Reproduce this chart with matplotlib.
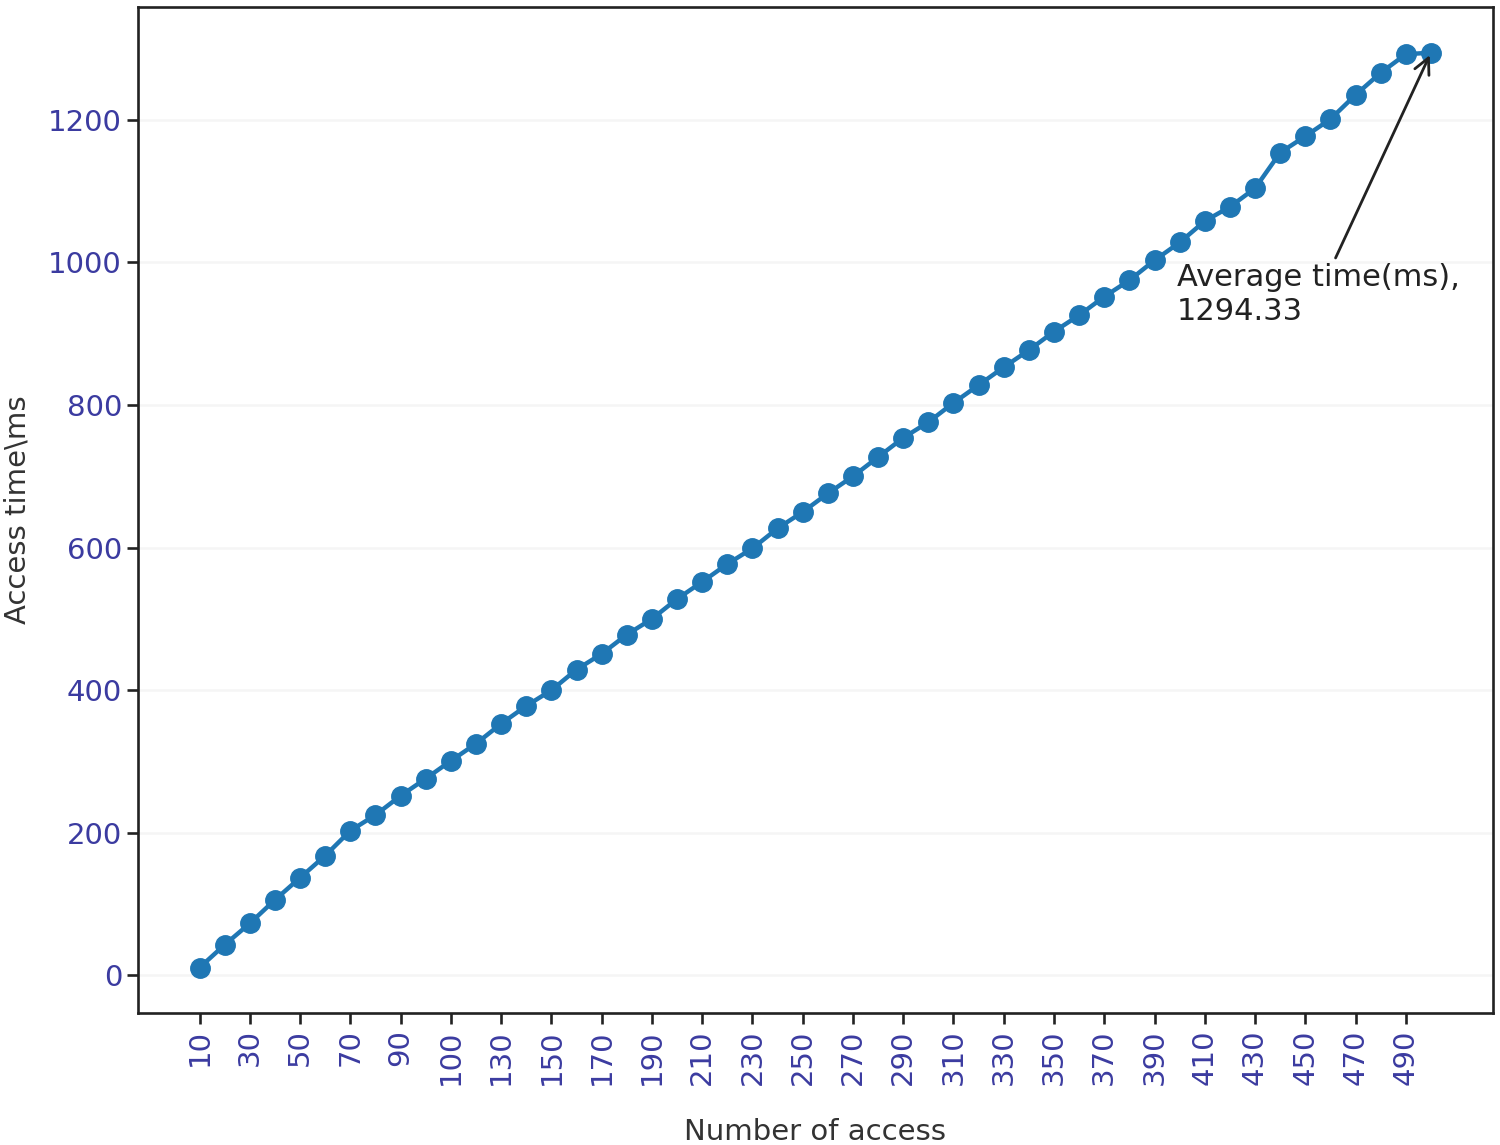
import matplotlib
matplotlib.use("Agg")
import matplotlib.pyplot as plt

# number of accesses and measured access time (ms)
access_counts = list(range(10, 510, 10))
access_times = [11, 43, 73, 106, 137, 168, 203, 225, 252, 276,
                301, 325, 353, 378, 400, 429, 451, 478, 500, 528,
                552, 577, 599, 627, 650, 676, 700, 727, 754, 776,
                803, 828, 853, 877, 903, 926, 952, 975, 1003, 1028,
                1058, 1078, 1104, 1154, 1177, 1201, 1235, 1266, 1292, 1294.33]

# tick labels as shown on the original (every second access count)
tick_positions = access_counts[:-1:2]
tick_labels = ['10', '30', '50', '70', '90', '100', '130', '150', '170', '190',
               '210', '230', '250', '270', '290', '310', '330', '350', '370', '390',
               '410', '430', '450', '470', '490']

avg_label = "Average time(ms),\n1294.33"

tick_color = '#3b3ba0'
label_color = '#333333'

fig = plt.figure(figsize=(15, 11.45), dpi=100)
ax = fig.add_axes([0.092, 0.115, 0.903, 0.879])

ax.plot(access_counts, access_times, color='#1f77b4', linewidth=3.2,
        marker='o', markersize=14)

ax.set_xticks(tick_positions)
ax.set_xticklabels(tick_labels, rotation=90)
ax.tick_params(axis='both', labelsize=21, labelcolor=tick_color,
               length=8, width=1.9, color='#222222')

ax.yaxis.grid(True, color='#f5f5f5', linewidth=1.8)
ax.set_axisbelow(True)

for spine in ax.spines.values():
    spine.set_linewidth(1.9)
    spine.set_color('#222222')

ax.set_xlabel("Number of access", fontsize=21, color=label_color, labelpad=24)
ax.set_ylabel("Access time\\ms", fontsize=21, color=label_color, labelpad=12)

ax.annotate(avg_label, xy=(access_counts[-1], access_times[-1]),
            xytext=(399, 955), ha='left', va='center',
            fontsize=22, color='#222222',
            arrowprops=dict(arrowstyle='->', color='#222222', lw=2,
                            mutation_scale=28))

fig.savefig("out.png", dpi=100)
plt.close(fig)
